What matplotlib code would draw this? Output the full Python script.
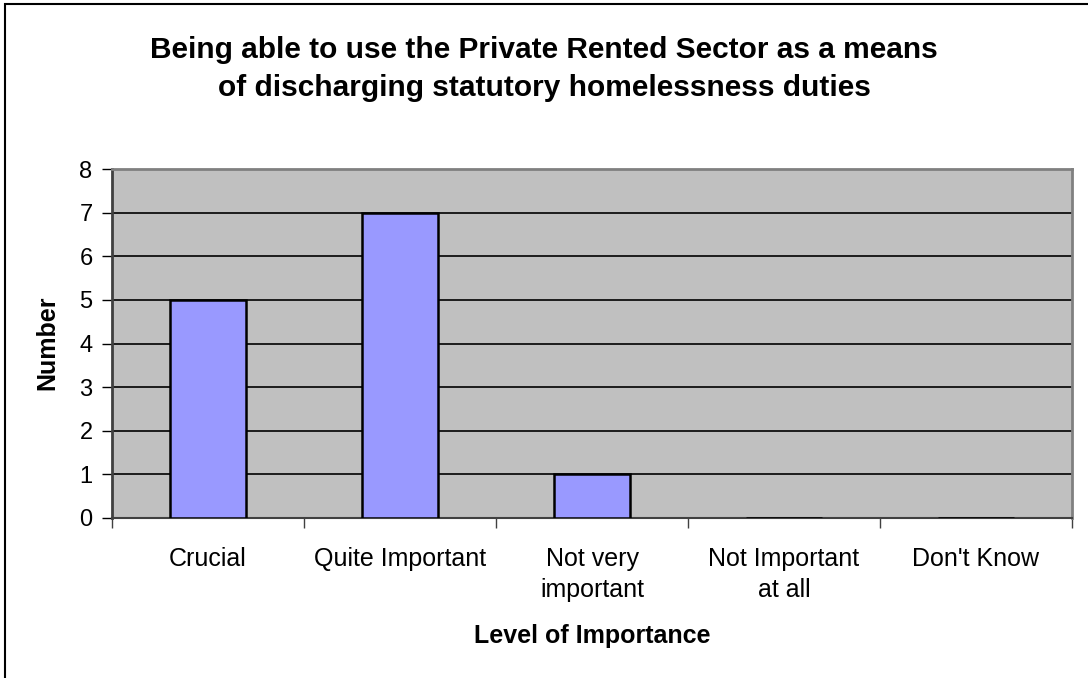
import matplotlib.pyplot as plt
import matplotlib.patches as mpatches
import numpy as np

plt.rcParams['font.family'] = ['Liberation Sans', 'DejaVu Sans']

# Données
categories = ["Crucial", "Quite Important", "Not very\nimportant", "Not Important\nat all", "Don't Know"]
counts = [5, 7, 1, 0, 0]
y_ticks = [0, 1, 2, 3, 4, 5, 6, 7, 8]
title_lines = ["Being able to use the Private Rented Sector as a means",
               "of discharging statutory homelessness duties"]

W, H = 1088, 678
fig = plt.figure(figsize=(W / 100, H / 100), dpi=100)
ax = fig.add_axes([112 / W, 1 - 518 / H, (1072 - 112) / W, (518 - 169) / H])

# cadre de la figure (coupé à droite et en bas)
fig.patches.append(mpatches.Rectangle((5 / W, -0.05), 1.2, 1 - 4 / H + 0.05,
                                      transform=fig.transFigure, fill=False,
                                      edgecolor='black', linewidth=1.5))

x = np.arange(len(categories))
ax.set_facecolor('#C0C0C0')
for y in y_ticks[1:]:
    ax.axhline(y, color='black', linewidth=1.2, zorder=1)
ax.bar(x, counts, width=0.4, color='#9999FF', edgecolor='black', linewidth=1.8, zorder=3)

ax.set_xlim(-0.5, len(categories) - 0.5)
ax.set_ylim(0, 8)
ax.set_yticks(y_ticks)
ax.set_yticklabels([str(v) for v in y_ticks], fontsize=17)
ax.set_xticks(np.arange(len(categories) + 1) - 0.5)
ax.set_xticklabels([])
ax.set_xticks(x, minor=True)
ax.set_xticklabels(categories, minor=True, fontsize=18, linespacing=1.35)
ax.tick_params(axis='x', which='major', direction='out', length=7, width=1, color='#404040')
ax.tick_params(axis='x', which='minor', length=0, pad=21)
ax.tick_params(axis='y', direction='out', length=7, width=1, color='black', pad=7)

for side in ['top', 'right']:
    ax.spines[side].set_color('#808080')
    ax.spines[side].set_linewidth(2)
ax.spines['left'].set_color('#404040')
ax.spines['left'].set_linewidth(2)
ax.spines['bottom'].set_color('#404040')
ax.spines['bottom'].set_linewidth(1.5)

# Titres et libellés des axes
fig.text(47 / W, 1 - 343 / H, 'Number', fontsize=18, fontweight='bold',
         rotation=90, ha='center', va='center')
fig.text(592 / W, 1 - 643 / H, 'Level of Importance', fontsize=18, fontweight='bold',
         ha='center', va='baseline')
for line, base in zip(title_lines, [58, 96]):
    fig.text(544 / W, 1 - base / H, line, fontsize=21.5, fontweight='bold',
             ha='center', va='baseline')

fig.savefig('out.png', dpi=100)
